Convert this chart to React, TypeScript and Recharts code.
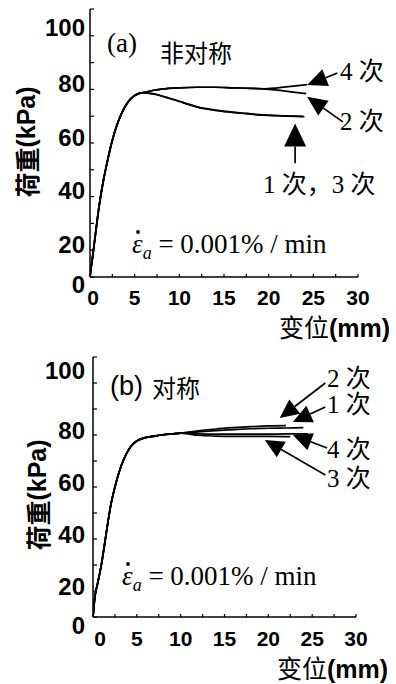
import React from 'react';
import { LineChart, Line, XAxis, YAxis, ReferenceLine } from 'recharts';

// axis ticks (labels every 5 mm / 20 kPa, marks every 2.5 mm / 10 kPa)
const xTicks = [0, 2.5, 5, 7.5, 10, 12.5, 15, 17.5, 20, 22.5, 25, 27.5, 30];
const yTicks = [0, 10, 20, 30, 40, 50, 60, 70, 80, 90, 100];

// (a) 非对称 — loading part shared by all four runs
const aLoadX = [0, 0.1, 0.25, 0.5, 1, 1.5, 2, 2.5, 3, 3.5, 4, 4.5, 5, 5.5, 6];
const aLoadY = [0, 3, 6.5, 13, 26, 36, 44, 51, 56.5, 60.8, 64, 66.3, 67.7, 68.5, 68.8];
// upper branch shared by 2次 / 4次
const aUpX = [7, 8, 10, 12, 14, 16, 18, 19.5];
const aUpY = [69.6, 70.1, 70.6, 70.8, 70.8, 70.6, 70.4, 70.2];
const a4X = [21, 22.5, 24.3];
const a4Y = [70.6, 71.1, 71.8];
const a2X = [21, 22.5, 24.2];
const a2Y = [69.7, 69.1, 68.4];
const a1X = [6.5, 7.5, 8.5, 10, 11, 12, 13, 14, 15.5, 17, 18.5, 20, 21.5, 23, 24];
const a1Y = [68.6, 68.0, 67.0, 65.5, 64.4, 63.4, 62.7, 62.2, 61.6, 61.1, 60.6, 60.3, 60.1, 59.9, 59.8];
const a3X = [6.5, 7.5, 8.5, 10, 11, 12, 13, 14, 15.5, 17, 18.5, 20, 21.5, 23, 23.8];
const a3Y = [68.6, 68.1, 67.1, 65.6, 64.5, 63.5, 62.8, 62.3, 61.7, 61.2, 60.7, 60.4, 60.1, 60.0, 59.9];

// (b) 对称
const bLoadX = [0, 0.1, 0.25, 0.5, 1, 1.5, 2, 2.5, 3, 3.5, 4, 4.5, 5, 5.5, 6, 7, 8, 9, 10];
const bLoadY = [0, 4, 8.5, 12.5, 21, 32, 42.5, 50, 56, 60.5, 64, 66.3, 67.7, 68.5, 69, 69.6, 70.1, 70.4, 70.7];
const b2X = [12, 14, 16, 18, 20, 22];
const b2Y = [71.6, 72.3, 72.8, 73.2, 73.5, 73.6];
const b1X = [12, 14, 16, 18, 20, 22, 24];
const b1Y = [71.2, 71.7, 72.1, 72.4, 72.6, 72.7, 72.8];
const b4X = [12, 14, 16, 18, 20, 22, 24.5];
const b4Y = [70.4, 70.3, 70.3, 70.3, 70.3, 70.4, 70.4];
const b3X = [12, 14, 16, 18, 20, 22.5];
const b3Y = [69.9, 69.6, 69.5, 69.5, 69.5, 69.4];

const pts = (xs: number[], ys: number[]) => xs.map((x, i) => ({ x, y: ys[i] }));

const aLoad = pts(aLoadX, aLoadY);
const aUp = pts(aUpX, aUpY);
const aSeries = [
  [...aLoad, ...pts(a1X, a1Y)],
  [...aLoad, ...aUp, ...pts(a2X, a2Y)],
  [...aLoad, ...pts(a3X, a3Y)],
  [...aLoad, ...aUp, ...pts(a4X, a4Y)],
];
const bLoad = pts(bLoadX, bLoadY);
const bSeries = [
  [...bLoad, ...pts(b1X, b1Y)],
  [...bLoad, ...pts(b2X, b2Y)],
  [...bLoad, ...pts(b3X, b3Y)],
  [...bLoad, ...pts(b4X, b4Y)],
];

const SANS = "'Liberation Sans', Arial, sans-serif";
const SERIF = "'Liberation Serif', 'Times New Roman', 'Noto Sans CJK SC', serif";
const CJK = "'Noto Sans CJK SC', sans-serif";

// inward tick marks, labels pushed down like in the scan
const YTick = (p: any) => {
  const { x, y, payload, gap, topShift, zeroShift } = p;
  const v = payload.value;
  const dy = v === 0 ? zeroShift : v === 100 ? topShift : 21;
  return (
    <g>
      <line x1={x} y1={y} x2={x + 4} y2={y} stroke="#000" strokeWidth={1.2} />
      {v % 20 === 0 && (
        <text x={x - gap} y={y + dy} textAnchor="end" dominantBaseline="central"
          fontFamily={SANS} fontSize={24} fontWeight="bold" fill="#000">{v}</text>
      )}
    </g>
  );
};

const XTick = (p: any) => {
  const { x, y, payload, zeroDx, labelDy } = p;
  const v = payload.value;
  return (
    <g>
      <line x1={x} y1={y} x2={x} y2={y - 3} stroke="#000" strokeWidth={1.2} />
      {v % 5 === 0 && (
        <text x={x + (v === 0 ? zeroDx : 0)} y={y + labelDy} textAnchor="middle" dominantBaseline="central"
          fontFamily={SANS} fontSize={21} fontWeight="bold" fill="#000">{v}</text>
      )}
    </g>
  );
};

const arrow = (hl: number, hw: number) => (props: any) => {
  const { x1, y1, x2, y2 } = props;
  const dx = x2 - x1;
  const dy = y2 - y1;
  const len = Math.hypot(dx, dy) || 1;
  const ux = dx / len;
  const uy = dy / len;
  const bx = x2 - ux * hl;
  const by = y2 - uy * hl;
  return (
    <g>
      <line x1={x1} y1={y1} x2={bx} y2={by} stroke="#000" strokeWidth={1.7} />
      <polygon points={`${x2},${y2} ${bx - uy * hw},${by + ux * hw} ${bx + uy * hw},${by - ux * hw}`} fill="#000" />
    </g>
  );
};

const Formula = ({ x, y }: { x: number; y: number }) => (
  <g>
    <circle cx={x + 6} cy={y - 21} r={1.9} fill="#000" />
    <text x={x} y={y} fontFamily={SERIF} fontSize={27} fill="#000">
      <tspan fontStyle="italic">{'\u03b5'}</tspan>
      <tspan fontStyle="italic" fontSize={18} dy={6}>a</tspan>
      <tspan dy={-6}>{' = 0.001% / min'}</tspan>
    </text>
  </g>
);

const YTitle = ({ x, y }: { x: number; y: number }) => (
  <text x={x} y={y} transform={`rotate(-90, ${x}, ${y})`} textAnchor="middle" dominantBaseline="central"
    fontSize={25} fill="#000">
    <tspan fontFamily={CJK} fontWeight="bold">荷重</tspan>
    <tspan fontFamily={SANS} fontWeight="bold">(kPa)</tspan>
  </text>
);

const XTitle = ({ x, y }: { x: number; y: number }) => (
  <text x={x} y={y} textAnchor="end" fontSize={25} fill="#000">
    <tspan fontFamily={CJK}>变位</tspan>
    <tspan fontFamily={SANS} fontWeight="bold">(mm)</tspan>
  </text>
);

const lineProps = {
  dataKey: 'y',
  type: 'monotone' as const,
  dot: false,
  stroke: '#000',
  strokeWidth: 1.7,
  isAnimationActive: false,
};

const App = () => {
  return (
    <div style={{ position: 'absolute', left: 0, top: 0, width: 396, height: 684, background: '#fff' }}>
      <div style={{ position: 'absolute', left: 0, top: 0 }}>
        <LineChart width={396} height={346} margin={{ top: 9, right: 38, bottom: 0, left: 0 }}>
          <XAxis type="number" dataKey="x" domain={[0, 30]} ticks={xTicks} interval={0} height={69}
            tickLine={false} tickSize={0} tickMargin={0} axisLine={{ stroke: '#000', strokeWidth: 1.5 }}
            tick={(p: any) => <XTick {...p} zeroDx={3} labelDy={20} />} allowDataOverflow />
          <YAxis type="number" domain={[0, 100]} ticks={yTicks} interval={0} width={90}
            tickLine={false} tickSize={0} tickMargin={0} axisLine={{ stroke: '#000', strokeWidth: 1.5 }}
            tick={(p: any) => <YTick {...p} gap={5} topShift={18} zeroShift={7} />} allowDataOverflow />
          {aSeries.map((d, i) => (
            <Line key={`a${i}`} data={d} {...lineProps} />
          ))}
          <ReferenceLine segment={[{ x: 27.7, y: 76.1 }, { x: 24.3, y: 71.6 }]} ifOverflow="visible" shape={arrow(20, 9)} />
          <ReferenceLine segment={[{ x: 28.3, y: 57.9 }, { x: 24.3, y: 67.3 }]} ifOverflow="visible" shape={arrow(20, 9)} />
          <ReferenceLine segment={[{ x: 22.96, y: 42.4 }, { x: 22.96, y: 57.3 }]} ifOverflow="visible" shape={arrow(23, 11)} />
          <text x={107} y={52} fontFamily={SERIF} fontSize={27} fill="#000">(a)</text>
          <text x={160} y={62} fontFamily={CJK} fontSize={24} fill="#000">非对称</text>
          <text x={340} y={80} fontFamily={SERIF} fontSize={25} fill="#000">4 次</text>
          <text x={340} y={130} fontFamily={SERIF} fontSize={25} fill="#000">2 次</text>
          <text x={263} y={193} fontFamily={SERIF} fontSize={25} fill="#000">1 次，3 次</text>
          <Formula x={132} y={253} />
          <YTitle x={26} y={142} />
          <XTitle x={390} y={337} />
        </LineChart>
      </div>
      <div style={{ position: 'absolute', left: 0, top: 340 }}>
        <LineChart width={396} height={344} margin={{ top: 17, right: 40, bottom: 0, left: 0 }}>
          <XAxis type="number" dataKey="x" domain={[0, 30]} ticks={xTicks} interval={0} height={67}
            tickLine={false} tickSize={0} tickMargin={0} axisLine={{ stroke: '#000', strokeWidth: 1.5 }}
            tick={(p: any) => <XTick {...p} zeroDx={7} labelDy={21} />} allowDataOverflow />
          <YAxis type="number" domain={[0, 100]} ticks={yTicks} interval={0} width={93}
            tickLine={false} tickSize={0} tickMargin={0} axisLine={{ stroke: '#000', strokeWidth: 1.5 }}
            tick={(p: any) => <YTick {...p} gap={8} topShift={13} zeroShift={8} />} allowDataOverflow />
          {bSeries.map((d, i) => (
            <Line key={`b${i}`} data={d} {...lineProps} />
          ))}
          <ReferenceLine segment={[{ x: 26.5, y: 90 }, { x: 21.3, y: 76.5 }]} ifOverflow="visible" shape={arrow(19, 9)} />
          <ReferenceLine segment={[{ x: 26.5, y: 80.8 }, { x: 22.8, y: 75 }]} ifOverflow="visible" shape={arrow(19, 9)} />
          <ReferenceLine segment={[{ x: 26.7, y: 65 }, { x: 22.8, y: 70 }]} ifOverflow="visible" shape={arrow(19, 9)} />
          <ReferenceLine segment={[{ x: 26.5, y: 54.6 }, { x: 19.6, y: 68.1 }]} ifOverflow="visible" shape={arrow(19, 9)} />
          <text x={110} y={55} fontFamily={SANS} fontSize={27} fill="#000">(b)</text>
          <text x={152} y={57} fontFamily={CJK} fontSize={24} fill="#000">对称</text>
          <text x={327} y={47} fontFamily={SERIF} fontSize={25} fill="#000">2 次</text>
          <text x={327} y={73} fontFamily={SERIF} fontSize={25} fill="#000">1 次</text>
          <text x={327} y={118} fontFamily={SERIF} fontSize={25} fill="#000">4 次</text>
          <text x={327} y={147} fontFamily={SERIF} fontSize={25} fill="#000">3 次</text>
          <Formula x={122} y={245} />
          <YTitle x={37} y={155} />
          <XTitle x={388} y={338} />
        </LineChart>
      </div>
    </div>
  );
};

export default App;
